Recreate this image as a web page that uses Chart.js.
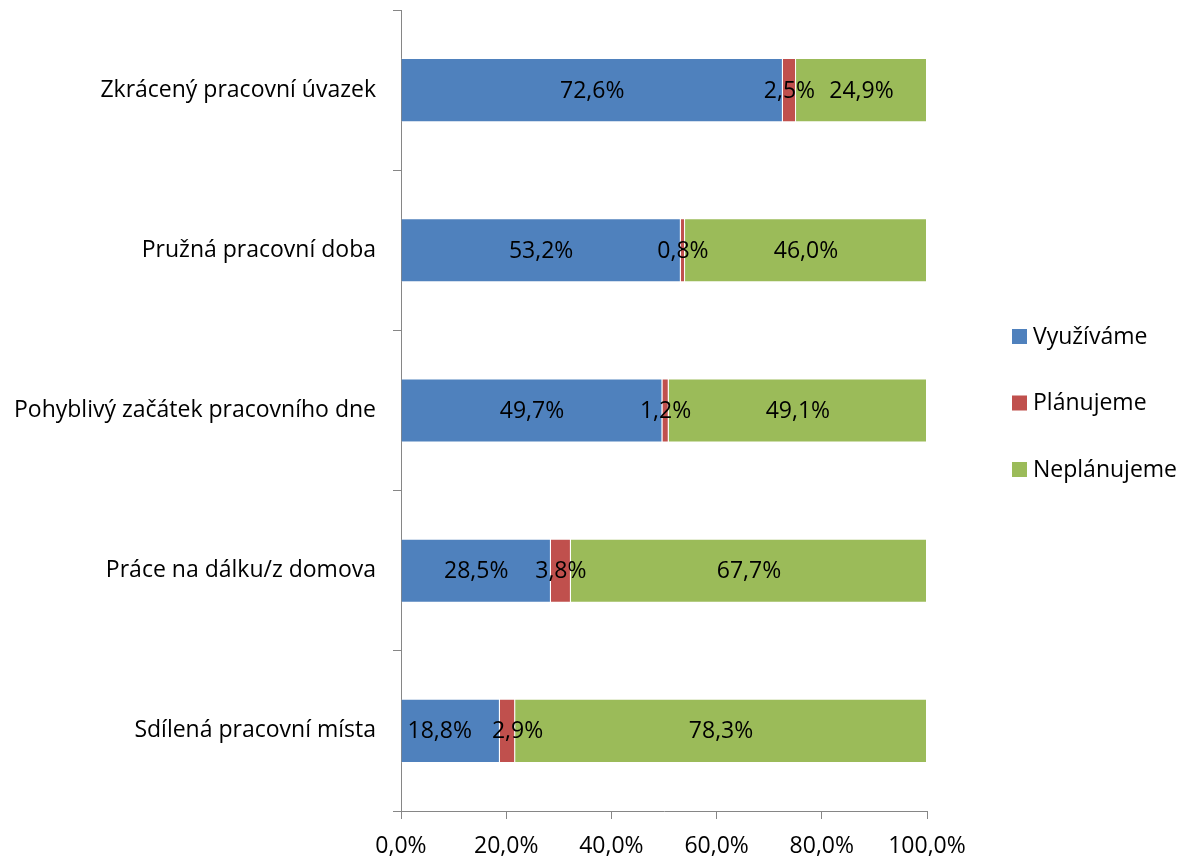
<!DOCTYPE html>
<html>
<head>
<meta charset="utf-8">
<script src="https://cdn.jsdelivr.net/npm/chart.js@4.4.1/dist/chart.umd.min.js"></script>
<style>
    html, body { margin: 0; padding: 0; background: #fff; }
    #wrap { width: 1186px; height: 861px; }
</style>
</head>
<body>
<div id="wrap"><canvas id="flexiChart"></canvas></div>
<script>
const kategorie = [
    'Zkrácený pracovní úvazek',
    'Pružná pracovní doba',
    'Pohyblivý začátek pracovního dne',
    'Práce na dálku/z domova',
    'Sdílená pracovní místa'
];
const vyuzivame = [72.6, 53.2, 49.7, 28.5, 18.8];
const planujeme = [2.5, 0.8, 1.2, 3.8, 2.9];
const neplanujeme = [24.9, 46.0, 49.1, 67.7, 78.3];
const osaX = [0, 20, 40, 60, 80, 100];

const PISMO = '"Open Sans", Lato, sans-serif';
const VELIKOST = 23;
const SEDA = '#868686';

function procenta(v) {
    return v.toFixed(1).replace('.', ',') + '%';
}

// popisky hodnot uprostred kazdeho useku
const popiskyPlugin = {
    id: 'popisky',
    afterDatasetsDraw(chart, args, opts) {
        const ctx = chart.ctx;
        ctx.save();
        ctx.font = VELIKOST + 'px ' + PISMO;
        ctx.fillStyle = '#000';
        ctx.textAlign = 'center';
        ctx.textBaseline = 'middle';
        chart.data.datasets.forEach((ds, di) => {
            chart.getDatasetMeta(di).data.forEach((bar, i) => {
                const posun = (opts.posun || {})[i + '-' + di] || 0;
                const x = (bar.x + bar.base) / 2 + posun;
                ctx.fillText(procenta(ds.data[i]), x, bar.y + 1);
            });
        });
        ctx.restore();
    }
};

// legenda vpravo
const legendaPlugin = {
    id: 'legenda',
    afterDraw(chart) {
        const ctx = chart.ctx;
        const a = chart.chartArea;
        ctx.save();
        ctx.font = VELIKOST + 'px ' + PISMO;
        ctx.textBaseline = 'middle';
        chart.data.datasets.forEach((ds, i) => {
            const y = a.top + 327 + i * 66.5;
            ctx.fillStyle = ds.backgroundColor;
            ctx.fillRect(a.right + 85, y - 8, 15, 15);
            ctx.fillStyle = '#000';
            ctx.fillText(ds.label, a.right + 106, y);
        });
        ctx.restore();
    }
};

function inicializovatGraf() {
    const ctx = document.getElementById('flexiChart').getContext('2d');
    new Chart(ctx, {
        type: 'bar',
        data: {
            labels: kategorie,
            datasets: [
                { label: 'Využíváme', data: vyuzivame, backgroundColor: '#4F81BD' },
                { label: 'Plánujeme', data: planujeme, backgroundColor: '#C0504D' },
                { label: 'Neplánujeme', data: neplanujeme, backgroundColor: '#9BBB59' }
            ]
        },
        options: {
            indexAxis: 'y',
            responsive: true,
            maintainAspectRatio: false,
            animation: false,
            layout: { padding: { top: 10, right: 259, left: 0, bottom: 0 } },
            datasets: {
                bar: {
                    barPercentage: 0.4,
                    categoryPercentage: 1,
                    borderWidth: 1,
                    borderColor: 'rgba(255,255,255,0.45)'
                }
            },
            plugins: {
                legend: { display: false },
                tooltip: { enabled: false },
                popisky: { posun: { '4-0': -11, '4-1': 10 } }
            },
            scales: {
                x: {
                    stacked: true,
                    min: 0,
                    max: 100,
                    afterBuildTicks(scale) {
                        scale.ticks = osaX.map(v => ({ value: v }));
                    },
                    afterFit(scale) { scale.height = 50; },
                    border: { color: SEDA, width: 1 },
                    grid: { drawOnChartArea: false, tickLength: 8, color: SEDA },
                    ticks: {
                        color: '#000',
                        font: { family: PISMO, size: VELIKOST },
                        padding: 14,
                        maxRotation: 0,
                        callback: v => procenta(v)
                    }
                },
                y: {
                    stacked: true,
                    afterFit(scale) {
                        scale.width = 401;
                        scale.paddingTop = 0;
                        scale.paddingBottom = 0;
                    },
                    border: { color: SEDA, width: 1 },
                    grid: { drawOnChartArea: false, tickLength: 8, color: SEDA },
                    ticks: {
                        color: '#000',
                        font: { family: PISMO, size: VELIKOST },
                        padding: 17,
                        autoSkip: false
                    }
                }
            }
        },
        plugins: [popiskyPlugin, legendaPlugin]
    });
}

document.addEventListener('DOMContentLoaded', inicializovatGraf);
</script>
</body>
</html>
